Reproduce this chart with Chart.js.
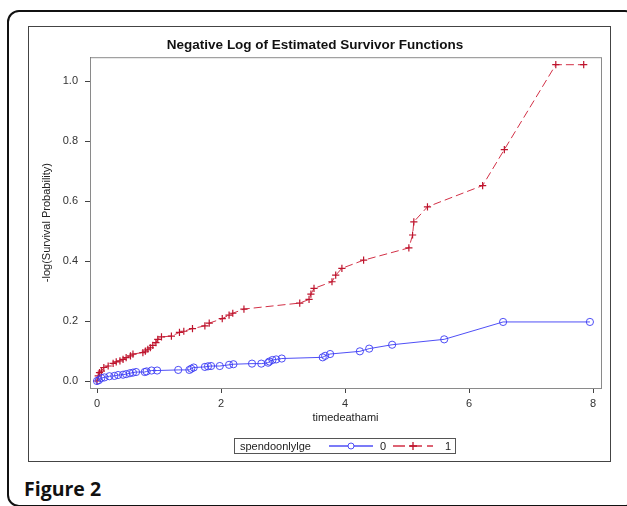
<!DOCTYPE html>
<html>
<head>
<meta charset="utf-8">
<script src="https://cdn.jsdelivr.net/npm/chart.js@4"></script>
<style>
  body { margin: 0; background: #fff; width: 627px; height: 506px; overflow: hidden; position: relative; }
  .frame { position: absolute; left: 7px; top: 10px; width: 630px; height: 497px; border: 2px solid #111; border-radius: 12px; box-sizing: border-box; }
  .box { position: absolute; left: 28px; top: 26px; width: 583px; height: 436px; border: 1px solid #444; box-sizing: border-box; background: #fff; }
  .box canvas { position: absolute; left: 0; top: 0; }
  .legend { position: absolute; left: 205px; top: 411px; width: 222px; height: 16px; border: 1px solid #555; box-sizing: border-box;
            display: flex; align-items: center; font: 11px "Liberation Sans", Arial, sans-serif; color: #222; padding: 0 0 0 5px; }
  .caption { position: absolute; left: 24px; top: 475px; font: bold 19.5px "Open Sans", sans-serif; color: #111; }
</style>
</head>
<body>
<div class="frame"></div>
<div class="box">
  <canvas id="survival" width="581" height="434"></canvas>
  <div class="legend" id="legend"></div>
</div>
<div class="caption">Figure 2</div>

<script>
// spendoonlylge = 0
const group0X = [0, 0.03, 0.07, 0.12, 0.2, 0.28, 0.34, 0.42, 0.47, 0.53, 0.58, 0.63, 0.77, 0.8, 0.88, 0.97,
    1.31, 1.49, 1.52, 1.56, 1.74, 1.79, 1.84, 1.98, 2.13, 2.2, 2.5, 2.65, 2.76, 2.78, 2.83, 2.89, 2.98,
    3.64, 3.68, 3.76, 4.24, 4.39, 4.76, 5.6, 6.55, 7.95];
const group0Y = [0, 0.003, 0.01, 0.012, 0.016, 0.017, 0.02, 0.021, 0.023, 0.026, 0.028, 0.03, 0.03, 0.032, 0.035, 0.035,
    0.037, 0.037, 0.041, 0.045, 0.047, 0.049, 0.05, 0.05, 0.054, 0.056, 0.058, 0.058, 0.061, 0.065, 0.07, 0.072, 0.075,
    0.079, 0.084, 0.09, 0.099, 0.108, 0.121, 0.139, 0.197, 0.197];

// spendoonlylge = 1
const group1X = [0, 0.02, 0.04, 0.07, 0.11, 0.18, 0.26, 0.31, 0.37, 0.42, 0.47, 0.54, 0.58, 0.74, 0.78, 0.82, 0.86,
    0.9, 0.95, 0.98, 1.04, 1.2, 1.33, 1.4, 1.54, 1.74, 1.81, 2.02, 2.13, 2.19, 2.37, 3.27, 3.42, 3.45, 3.5,
    3.79, 3.85, 3.95, 4.3, 5.03, 5.09, 5.11, 5.33, 6.22, 6.57, 7.4, 7.85];
const group1Y = [0, 0.017, 0.028, 0.033, 0.045, 0.05, 0.059, 0.064, 0.067, 0.072, 0.078, 0.084, 0.09, 0.095, 0.1, 0.106, 0.111,
    0.119, 0.128, 0.139, 0.147, 0.15, 0.162, 0.166, 0.175, 0.184, 0.193, 0.208, 0.22, 0.226, 0.24, 0.26, 0.272, 0.29, 0.309,
    0.331, 0.353, 0.376, 0.403, 0.444, 0.487, 0.531, 0.581, 0.652, 0.772, 1.055, 1.055];

const groupLabels = ['0', '1'];
const xTicks = [0, 2, 4, 6, 8];
const yTicks = [0, 0.2, 0.4, 0.6, 0.8, 1.0];

const toPoints = (xs, ys) => xs.map((x, i) => ({ x: x, y: ys[i] }));

const font = { family: '"Liberation Sans", Arial, sans-serif', size: 11 };

// grey frame round the plot area (top and right sides)
const plotFrame = {
    id: 'plotFrame',
    beforeDatasetsDraw(chart) {
        const a = chart.chartArea;
        const ctx = chart.ctx;
        ctx.save();
        ctx.strokeStyle = '#8a8a8a';
        ctx.lineWidth = 1;
        ctx.strokeRect(a.left + 0.5, a.top + 0.5, a.right - a.left, a.bottom - a.top);
        ctx.restore();
    }
};

const survivalChart = new Chart(document.getElementById('survival'),
    {
        type: 'scatter',
        data:
        {
            datasets:
            [
                {
                    label: groupLabels[0],
                    data: toPoints(group0X, group0Y),
                    showLine: true,
                    borderColor: 'rgba(60, 60, 245, 0.9)',
                    borderWidth: 1,
                    pointStyle: 'circle',
                    pointRadius: 3.6,
                    pointBorderWidth: 1,
                    pointBorderColor: 'rgba(60, 60, 245, 0.9)',
                    pointBackgroundColor: 'rgba(0, 0, 0, 0)',
                    tension: 0
                },
                {
                    label: groupLabels[1],
                    data: toPoints(group1X, group1Y),
                    showLine: true,
                    borderColor: 'rgba(205, 25, 50, 0.9)',
                    borderWidth: 1,
                    borderDash: [8, 4],
                    pointStyle: 'cross',
                    pointRadius: 3.6,
                    pointBorderWidth: 1.2,
                    pointBorderColor: 'rgba(190, 20, 45, 1)',
                    tension: 0
                }
            ]
        },
        options:
        {
            responsive: false,
            animation: false,
            layout: { padding: { left: 0, right: 9, top: 0, bottom: 0 } },
            plugins:
            {
                legend: { display: false },
                tooltip: { enabled: false },
                title:
                {
                    display: true,
                    text: 'Negative Log of Estimated Survivor Functions',
                    color: '#111',
                    font: { family: font.family, size: 13.5, weight: 'bold' },
                    padding: { top: 10, bottom: 4 }
                }
            },
            scales:
            {
                x:
                {
                    type: 'linear',
                    min: -0.113,
                    max: 8.129,
                    afterBuildTicks: (scale) => { scale.ticks = xTicks.map(v => ({ value: v })); },
                    afterFit: (scale) => { scale.height = 73; },
                    ticks: { color: '#333', font: font, padding: 4, maxRotation: 0 },
                    grid: { drawOnChartArea: false, drawTicks: true, tickLength: 5, color: '#444' },
                    border: { display: true, color: '#444' },
                    title: { display: true, text: 'timedeathami', color: '#222', font: font, padding: { top: 0, bottom: 36 } }
                },
                y:
                {
                    type: 'linear',
                    min: -0.0233,
                    max: 1.08,
                    afterBuildTicks: (scale) => { scale.ticks = yTicks.map(v => ({ value: v })); },
                    afterFit: (scale) => { scale.width = 61; },
                    ticks: { color: '#333', font: font, padding: 7, callback: (v) => v.toFixed(1) },
                    grid: { drawOnChartArea: false, drawTicks: true, tickLength: 5, color: '#444' },
                    border: { display: true, color: '#444' },
                    title: { display: true, text: '-log(Survival Probability)', color: '#222', font: font, padding: { top: 11, bottom: 0 } }
                }
            }
        },
        plugins: [plotFrame]
    });

// legend in the SAS style: variable name, then a line sample per group
function buildLegend(chart) {
    const box = document.getElementById('legend');
    const name = document.createElement('span');
    name.textContent = 'spendoonlylge';
    name.style.marginRight = '18px';
    box.appendChild(name);
    chart.data.datasets.forEach((ds, i) => {
        const ns = 'http://www.w3.org/2000/svg';
        const w = i === 0 ? 44 : 40;
        const svg = document.createElementNS(ns, 'svg');
        svg.setAttribute('width', String(w));
        svg.setAttribute('height', '10');
        svg.style.marginRight = i === 0 ? '7px' : '12px';
        const line = document.createElementNS(ns, 'line');
        line.setAttribute('x1', '0'); line.setAttribute('x2', String(w));
        line.setAttribute('y1', '5'); line.setAttribute('y2', '5');
        line.setAttribute('stroke', ds.borderColor);
        line.setAttribute('stroke-width', '1.5');
        if (ds.borderDash) line.setAttribute('stroke-dasharray', '12 5');
        svg.appendChild(line);
        const cx = w / 2;
        if (ds.pointStyle === 'circle') {
            const c = document.createElementNS(ns, 'circle');
            c.setAttribute('cx', String(cx)); c.setAttribute('cy', '5'); c.setAttribute('r', '3');
            c.setAttribute('fill', '#fff'); c.setAttribute('stroke', ds.pointBorderColor);
            svg.appendChild(c);
        } else {
            const p = document.createElementNS(ns, 'path');
            p.setAttribute('d', `M${cx - 4} 5 H${cx + 4} M${cx} 1 V9`);
            p.setAttribute('stroke', ds.pointBorderColor);
            p.setAttribute('stroke-width', '1.3');
            svg.appendChild(p);
        }
        box.appendChild(svg);
        const lab = document.createElement('span');
        lab.textContent = ds.label;
        lab.style.marginRight = i === 0 ? '7px' : '0';
        box.appendChild(lab);
    });
}
buildLegend(survivalChart);
</script>
</body>
</html>
